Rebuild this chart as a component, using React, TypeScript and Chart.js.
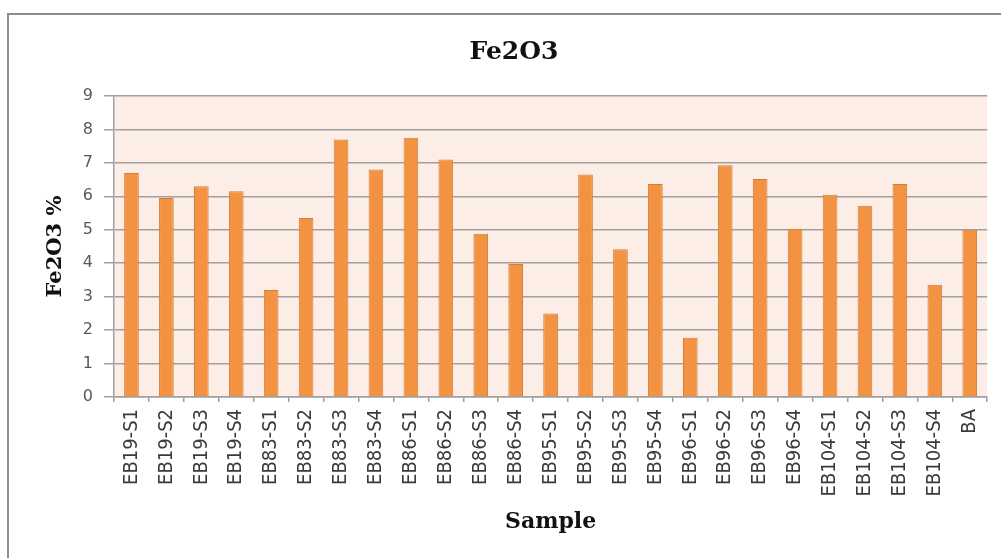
import React, { useEffect, useRef } from "react";
import { Chart, registerables } from "chart.js";

Chart.register(...registerables);

const categories = [
  "EB19-S1", "EB19-S2", "EB19-S3", "EB19-S4",
  "EB83-S1", "EB83-S2", "EB83-S3", "EB83-S4",
  "EB86-S1", "EB86-S2", "EB86-S3", "EB86-S4",
  "EB95-S1", "EB95-S2", "EB95-S3", "EB95-S4",
  "EB96-S1", "EB96-S2", "EB96-S3", "EB96-S4",
  "EB104-S1", "EB104-S2", "EB104-S3", "EB104-S4",
  "BA",
];

const fe2o3Values = [
  6.7, 5.95, 6.3, 6.15,
  3.2, 5.35, 7.7, 6.8,
  7.75, 7.1, 4.88, 3.98,
  2.5, 6.65, 4.42, 6.37,
  1.77, 6.93, 6.52, 5.03,
  6.05, 5.72, 6.37, 3.36,
  5.0,
];

const yTickMin = 0;
const yTickMax = 9;
const yTickStep = 1;

const plotBackground = {
  id: "plotBackground",
  beforeDraw(chart: any) {
    const { ctx, chartArea } = chart;
    if (!chartArea) return;
    ctx.save();
    ctx.fillStyle = "#FCEEE7";
    ctx.fillRect(chartArea.left, chartArea.top, chartArea.right - chartArea.left, chartArea.bottom - chartArea.top);
    ctx.restore();
  },
};

export default function App() {
  const ref = useRef<HTMLCanvasElement | null>(null);

  useEffect(() => {
    if (!ref.current) return;
    const chart = new Chart(ref.current, {
      type: "bar",
      data: {
        labels: categories,
        datasets: [
          {
            label: "Fe2O3",
            data: fe2o3Values,
            backgroundColor: "#F39240",
            borderColor: "#D07E3A",
            borderWidth: 1,
            barPercentage: 0.42,
            categoryPercentage: 1,
          },
        ],
      },
      options: {
        responsive: false,
        animation: false,
        layout: { padding: { left: 40, right: 13, top: 30, bottom: 10 } },
        plugins: {
          legend: { display: false },
          tooltip: { enabled: false },
          title: {
            display: true,
            text: "Fe2O3",
            color: "#111",
            font: { family: '"DejaVu Serif", serif', weight: "bold", size: 25 },
            padding: { top: 7, bottom: 29 },
          },
        },
        scales: {
          x: {
            afterFit(scale: any) {
              scale.height = 151;
            },
            grid: {
              display: true,
              drawOnChartArea: false,
              offset: true,
              tickLength: 5,
              color: "#a0a0a0",
              lineWidth: 1.5,
            },
            border: { display: true, color: "#a0a0a0", width: 1.5 },
            ticks: {
              autoSkip: false,
              maxRotation: 90,
              minRotation: 90,
              padding: 7,
              color: "#3a3a3a",
              font: { family: '"DejaVu Sans Condensed", "Liberation Sans Narrow", "DejaVu Sans", sans-serif', size: 20 },
            },
            title: {
              display: true,
              text: "Sample",
              color: "#111",
              font: { family: '"DejaVu Serif", serif', weight: "bold", size: 22 },
              padding: { top: 4, bottom: 13 },
            },
          },
          y: {
            min: yTickMin,
            max: yTickMax,
            afterFit(scale: any) {
              scale.width = 74;
            },
            ticks: {
              stepSize: yTickStep,
              padding: 11,
              color: "#595959",
              font: { family: '"DejaVu Sans", sans-serif', size: 16 },
            },
            grid: {
              color: "#a0a0a0",
              lineWidth: 1.5,
              tickLength: 10,
            },
            border: { display: true, color: "#a0a0a0", width: 1.5 },
            title: {
              display: true,
              text: "Fe2O3 %",
              color: "#111",
              font: { family: '"DejaVu Serif", serif', weight: "bold", size: 21 },
              padding: { top: 3, bottom: 0 },
            },
          },
        },
      },
      plugins: [plotBackground],
    });
    return () => chart.destroy();
  }, []);

  return (
    <div style={{ position: "fixed", left: 0, top: 0, width: 1001, height: 558, background: "#fff", overflow: "hidden" }}>
      <div
        style={{
          position: "absolute",
          left: 7,
          top: 13,
          width: 1100,
          height: 700,
          border: "2px solid #8c8c8c",
          boxSizing: "border-box",
        }}
      />
      <canvas ref={ref} width={1001} height={558} style={{ position: "absolute", left: 0, top: 0 }} />
    </div>
  );
}
